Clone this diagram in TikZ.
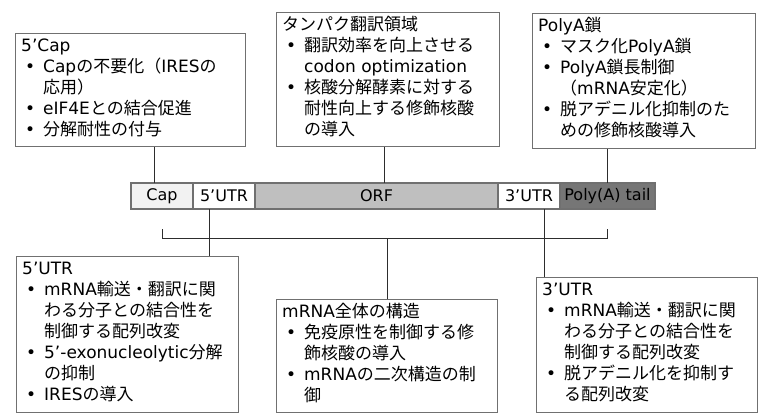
\documentclass[tikz,border=0pt]{standalone}
\usepackage{fontspec}
\setmainfont{DejaVu Sans}
\newfontfamily\jpfont{Noto Sans CJK JP}
\usetikzlibrary{positioning}

% kana, kanji and full-width signs are set in the Japanese font
\XeTeXinterchartokenstate=1
\newXeTeXintercharclass\jpclass
\newcount\jpcode
\jpcode="3000
\loop\XeTeXcharclass\jpcode=\jpclass \ifnum\jpcode<"9FFF \advance\jpcode by 1 \repeat
\jpcode="FF00
\loop\XeTeXcharclass\jpcode=\jpclass \ifnum\jpcode<"FFEF \advance\jpcode by 1 \repeat
\XeTeXinterchartoks 0 \jpclass = {\jpfont}
\XeTeXinterchartoks 4095 \jpclass = {\jpfont}
\XeTeXinterchartoks \jpclass 0 = {\rmfamily}
\XeTeXinterchartoks 4095 0 = {\rmfamily}

\definecolor{boxgray}{RGB}{112,112,112}
\definecolor{linegray}{RGB}{45,45,45}
\definecolor{capfill}{RGB}{242,242,242}
\definecolor{orffill}{RGB}{191,191,191}
\definecolor{polyfill}{RGB}{118,118,118}

\newcommand{\bl}{\rmfamily\makebox[22pt][l]{\hspace{4pt}•}}
\newcommand{\ct}{\hspace*{22pt}}

\tikzset{
  infobox/.style={draw=boxgray, line width=1pt, anchor=north west, inner sep=0pt},
  infotext/.style={align=left, inner sep=0pt, anchor=north west, font=\fontsize{17}{21}\selectfont},
  cell/.style={draw=boxgray, line width=1.2pt, fill=white, minimum height=26pt, inner sep=0pt, outer sep=0pt, font=\fontsize{16}{19}\selectfont},
  conn/.style={draw=linegray, line width=1pt}
}

\begin{document}
\begin{tikzpicture}[x=1pt, y=-1pt]
    \useasboundingbox (0,0) rectangle (768,420);

    % Draw the mRNA bar
    \node[cell, fill=capfill, minimum width=62pt, anchor=north west] (cap) at (131,183) {Cap};
    \node[cell, right=0pt of cap, minimum width=62pt] (utr5) {5'UTR};
    \node[cell, right=0pt of utr5, fill=orffill, minimum width=243pt] (orf) {ORF};
    \node[cell, right=0pt of orf, minimum width=62pt] (utr3) {3'UTR};
    \node[cell, right=0pt of utr3, fill=polyfill, minimum width=95pt] (poly) {Poly(A) tail};

    % Draw the boxes above the bar
    \node[infobox, minimum width=230pt, minimum height=113pt] (capbox) at (15,33) {};
    \node[infotext, below right=4pt and 6pt of capbox.north west] (captext) {\strut 5'Cap\\
      \bl Capの不要化（IRESの\\
      \ct 応用）\\
      \bl eIF4Eとの結合促進\\
      \bl 分解耐性の付与};
    \node[infobox, minimum width=223pt, minimum height=134pt] (orfbox) at (276,12) {};
    \node[infotext, below right=4pt and 6pt of orfbox.north west] (orftext) {\strut タンパク翻訳領域\\
      \bl 翻訳効率を向上させる\\
      \ct codon optimization\\
      \bl 核酸分解酵素に対する\\
      \ct 耐性向上する修飾核酸\\
      \ct の導入};
    \node[infobox, minimum width=223pt, minimum height=135pt] (polybox) at (532,13) {};
    \node[infotext, below right=4pt and 6pt of polybox.north west] (polytext) {\strut PolyA鎖\\
      \bl マスク化PolyA鎖\\
      \bl PolyA鎖長制御\\
      \ct （mRNA安定化）\\
      \bl 脱アデニル化抑制のた\\
      \ct めの修飾核酸導入};

    % Draw the boxes below the bar
    \node[infobox, minimum width=222pt, minimum height=156pt] (utr5box) at (16,256) {};
    \node[infotext, below right=4pt and 6pt of utr5box.north west] (utr5text) {\strut 5'UTR\\
      \bl mRNA輸送・翻訳に関\\
      \ct わる分子との結合性を\\
      \ct 制御する配列改変\\
      \bl 5'-exonucleolytic分解\\
      \ct の抑制\\
      \bl IRESの導入};
    \node[infobox, minimum width=221pt, minimum height=113pt] (allbox) at (276,299) {};
    \node[infotext, below right=4pt and 6pt of allbox.north west] (alltext) {\strut mRNA全体の構造\\
      \bl 免疫原性を制御する修\\
      \ct 飾核酸の導入\\
      \bl mRNAの二次構造の制\\
      \ct 御};
    \node[infobox, minimum width=221pt, minimum height=135pt] (utr3box) at (536,277) {};
    \node[infotext, below right=4pt and 6pt of utr3box.north west] (utr3text) {\strut 3'UTR\\
      \bl mRNA輸送・翻訳に関\\
      \ct わる分子との結合性を\\
      \ct 制御する配列改変\\
      \bl 脱アデニル化を抑制す\\
      \ct る配列改変};

    % Draw the connectors to the upper boxes
    \draw[conn] ([xshift=-8pt]cap.north) -- ([xshift=-8pt]cap.north |- capbox.south);
    \draw[conn] ([xshift=-4pt]orfbox.south) -- ([xshift=-4pt]orfbox.south |- orf.north);
    \draw[conn] (poly.north) -- (poly.north |- polybox.south);

    % Draw the connectors to the lower boxes
    \draw[conn] ([xshift=-15pt]utr5.south) -- ([xshift=-15pt]utr5.south |- utr5box.north);
    \draw[conn] ([xshift=15pt]utr3.south) -- ([xshift=15pt]utr3.south |- utr3box.north);

    % Draw the bracket over the whole mRNA
    \coordinate (brk) at ([yshift=-29pt]cap.south);
    \draw[conn] ([yshift=-20pt]cap.south) -- (brk) -- (brk -| poly.south) -- ([yshift=-20pt]poly.south);
    \draw[conn] (allbox.north) -- (allbox.north |- brk);
\end{tikzpicture}
\end{document}
